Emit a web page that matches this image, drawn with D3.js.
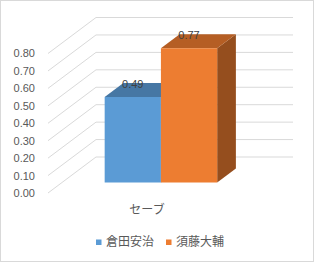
<!DOCTYPE html>
<html>
<head>
<meta charset="utf-8">
<script src="https://cdn.jsdelivr.net/npm/d3@7"></script>
<style>
  body { margin: 0; background: #fff; }
  svg { display: block; }
</style>
</head>
<body>
<script>
// chart data
var categories = ["セーブ"];
var seriesNames = ["倉田安治", "須藤大輔"];
var seriesValues = [[0.49], [0.77]];
var yTicks = [0, 0.1, 0.2, 0.3, 0.4, 0.5, 0.6, 0.7, 0.8];

var svgWidth = 314;
var svgHeight = 262;

var frontColors = ["#5B9BD5", "#ED7D31"];
var topColors = ["#4677A4", "#B55E24"];
var sideColors = ["#3E6A93", "#954E1E"];

// depth of the box (oblique projection)
var depthX = 48;
var depthY = -36;
var barD0 = 0.29;
var barD1 = 0.68;

var svg = d3.select("body")
  .append("svg")
    .attr("width", svgWidth)
    .attr("height", svgHeight);

// border
svg.append("rect")
  .attr("x", 0.5)
  .attr("y", 0.5)
  .attr("width", svgWidth - 1)
  .attr("height", svgHeight - 1)
  .style("fill", "#fff")
  .style("stroke", "#D9D9D9");

var yScale = d3.scaleLinear().domain([0, 0.8]).range([193, 53.5]);

var xScale = d3.scaleBand()
  .domain(categories)
  .range([48, 246])
  .paddingInner(0)
  .paddingOuter(0.38);

var xInner = d3.scaleBand()
  .domain(seriesNames)
  .range([0, xScale.bandwidth()]);

function proj(x, v, d) {
  return [x + depthX * d, yScale(v) + depthY * d];
}

// grid: left wall diagonals and back wall lines
var grid = svg.append("g");
yTicks.forEach(function(t) {
  var a = proj(48, t, 0);
  var b = proj(48, t, 1);
  var c = proj(245, t, 1);
  grid.append("polyline")
    .attr("points", [a, b, c].map(function(p) { return p.join(","); }).join(" "))
    .style("fill", "none")
    .style("stroke", "#D9D9D9")
    .style("stroke-width", 1);
});

// y axis labels
svg.append("g")
  .selectAll("text")
  .data(yTicks)
  .enter()
  .append("text")
    .attr("x", 35)
    .attr("y", function(d) { return yScale(d); })
    .attr("dy", "0.36em")
    .attr("text-anchor", "end")
    .style("font-family", "'Liberation Sans', Arial, sans-serif")
    .style("font-size", "11px")
    .style("fill", "#595959")
    .text(function(d) { return d.toFixed(2); });

function poly(g, pts, color) {
  g.append("polygon")
    .attr("points", pts.map(function(p) { return p.join(","); }).join(" "))
    .style("fill", color);
}

// bars
var bars = svg.append("g");
categories.forEach(function(cat, ci) {
  seriesNames.forEach(function(name, si) {
    var v = seriesValues[si][ci];
    var x0 = xScale(cat) + xInner(name);
    var x1 = x0 + xInner.bandwidth();
    var g = bars.append("g");
    // side face
    poly(g, [proj(x1, 0, barD0), proj(x1, 0, barD1), proj(x1, v, barD1), proj(x1, v, barD0)], sideColors[si]);
    // top face
    poly(g, [proj(x0, v, barD0), proj(x0, v, barD1), proj(x1, v, barD1), proj(x1, v, barD0)], topColors[si]);
    // front face
    poly(g, [proj(x0, 0, barD0), proj(x1, 0, barD0), proj(x1, v, barD0), proj(x0, v, barD0)], frontColors[si]);
  });
});

// data labels
categories.forEach(function(cat, ci) {
  seriesNames.forEach(function(name, si) {
    var v = seriesValues[si][ci];
    var xc = xScale(cat) + xInner(name) + xInner.bandwidth() / 2;
    var p = proj(xc, v, barD1);
    svg.append("text")
      .attr("x", xc + depthX * barD0)
      .attr("y", p[1] + 1)
      .attr("dy", "0.36em")
      .attr("text-anchor", "middle")
      .style("font-family", "'Liberation Sans', Arial, sans-serif")
      .style("font-size", "11px")
      .style("fill", "#404040")
      .text(v.toFixed(2));
  });
});

// category label
svg.append("g")
  .selectAll("text")
  .data(categories)
  .enter()
  .append("text")
    .attr("x", function(d) { return xScale(d) + xScale.bandwidth() / 2; })
    .attr("y", 210)
    .attr("dy", "0.36em")
    .attr("text-anchor", "middle")
    .style("font-family", "'Noto Sans CJK JP', sans-serif")
    .style("font-size", "12px")
    .style("fill", "#595959")
    .text(function(d) { return d; });

// legend
var legendX = [96, 166];
var legend = svg.append("g");
seriesNames.forEach(function(name, i) {
  legend.append("rect")
    .attr("x", legendX[i])
    .attr("y", 239.5)
    .attr("width", 5.5)
    .attr("height", 5.5)
    .style("fill", frontColors[i]);
  legend.append("text")
    .attr("x", legendX[i] + 10)
    .attr("y", 242)
    .attr("dy", "0.36em")
    .style("font-family", "'Noto Sans CJK JP', sans-serif")
    .style("font-size", "12px")
    .style("fill", "#595959")
    .text(name);
});
</script>
</body>
</html>
